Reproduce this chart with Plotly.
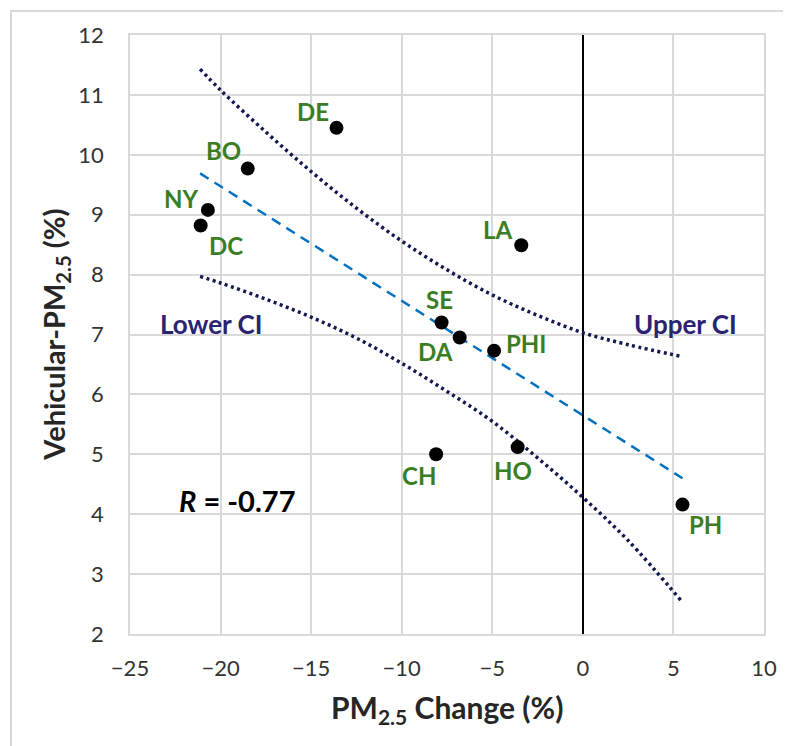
import plotly.graph_objects as go

# ---- data ----
cities = ["DE", "BO", "NY", "DC", "LA", "SE", "DA", "PHI", "CH", "HO", "PH"]
pm_change = [-13.6, -18.5, -20.7, -21.1, -3.4, -7.8, -6.8, -4.9, -8.1, -3.6, 5.5]
vehicular = [10.45, 9.77, 9.08, 8.82, 8.49, 7.20, 6.95, 6.73, 5.00, 5.12, 4.16]

fit_x = [-21.13, 5.5]
fit_y = [9.69, 4.60]

ci_x = [-21.13, -20, -17.5, -15, -12.5, -10, -7.5, -5, -2.5, 0, 2.5, 5.5]
upper_ci = [11.43, 11.08, 10.38, 9.72, 9.11, 8.56, 8.08, 7.66, 7.32, 7.03, 6.83, 6.63]
lower_ci = [7.97, 7.86, 7.59, 7.29, 6.94, 6.52, 6.05, 5.55, 4.94, 4.28, 3.56, 2.53]

x_ticks = [-25, -20, -15, -10, -5, 0, 5, 10]
y_ticks = [2, 3, 4, 5, 6, 7, 8, 9, 10, 11, 12]

r_text = "<i>R</i> = -0.77"

# label offsets (pixels: right, up)
label_offsets = {
    "DE": (-24, 16), "BO": (-24, 18), "NY": (-27, 11), "DC": (25, -20),
    "LA": (-24, 16), "SE": (-2, 23), "DA": (-24, -14), "PHI": (32, 7),
    "CH": (-17, -21), "HO": (-5, -23), "PH": (23, -20),
}

GREEN = "#3A7D22"
NAVY = "#13184F"
CI_TXT = "#2B2272"
GRID = "#d9d9d9"
FONT = "Lato"

fig = go.Figure()

ci_line = dict(color=NAVY, width=3.5, dash="3px,3.5px", shape="spline")
fig.add_trace(go.Scatter(x=ci_x, y=upper_ci, mode="lines", line=ci_line, hoverinfo="skip"))
fig.add_trace(go.Scatter(x=ci_x, y=lower_ci, mode="lines", line=ci_line, hoverinfo="skip"))
fig.add_trace(go.Scatter(x=fit_x, y=fit_y, mode="lines",
                         line=dict(color="#0070C0", width=2.5, dash="10px,7px"), hoverinfo="skip"))
fig.add_trace(go.Scatter(x=pm_change, y=vehicular, mode="markers",
                         marker=dict(color="black", size=14)))

for c, xv, yv in zip(cities, pm_change, vehicular):
    dx, dy = label_offsets[c]
    fig.add_annotation(x=xv, y=yv, text=c, showarrow=False, xshift=dx, yshift=dy,
                       font=dict(family=FONT, size=24, color=GREEN, weight="bold"))

fig.add_annotation(x=-20.53, y=7.18, text="Lower CI", showarrow=False,
                   font=dict(family=FONT, size=26, color=CI_TXT, weight="bold"))
fig.add_annotation(x=5.68, y=7.17, text="Upper CI", showarrow=False,
                   font=dict(family=FONT, size=26, color=CI_TXT, weight="bold"))
fig.add_annotation(x=-22.4, y=4.23, xanchor="left", text=r_text, showarrow=False,
                   font=dict(family=FONT, size=29, color="black", weight="bold"))

# axis titles
fig.add_annotation(xref="paper", yref="paper", x=0.5, y=-0.125, yanchor="middle",
                   text="PM<sub>2.5</sub> Change (%)", showarrow=False,
                   font=dict(family=FONT, size=30, color="#262626", weight="bold"))
fig.add_annotation(xref="paper", yref="paper", x=-0.118, y=0.5, xanchor="center", yanchor="middle",
                   textangle=-90, text="Vehicular-PM<sub>2.5</sub> (%)", showarrow=False,
                   font=dict(family=FONT, size=29, color="#262626", weight="bold"))

# outer chart border
fig.add_shape(type="rect", xref="paper", yref="paper",
              x0=-0.1877, x1=1.0489, y0=-0.1937, y1=1.040,
              line=dict(color=GRID, width=2), layer="below")

fig.update_xaxes(range=[-25, 10], tickvals=x_ticks, showgrid=True, gridcolor=GRID, gridwidth=1.5,
                 zeroline=True, zerolinecolor="black", zerolinewidth=2,
                 showline=True, mirror=True, linecolor=GRID, linewidth=1.5,
                 ticks="outside", ticklen=14, tickcolor="rgba(0,0,0,0)",
                 tickfont=dict(family=FONT, size=22, color="#333333"))
fig.update_yaxes(range=[2, 12], tickvals=y_ticks, showgrid=True, gridcolor=GRID, gridwidth=1.5,
                 zeroline=False,
                 showline=True, mirror=True, linecolor=GRID, linewidth=1.5,
                 ticks="outside", ticklen=20, tickcolor="rgba(0,0,0,0)",
                 tickfont=dict(family=FONT, size=22, color="#333333"))

fig.update_layout(width=791, height=746, showlegend=False,
                  margin=dict(l=122, r=35, t=27, b=120),
                  paper_bgcolor="white", plot_bgcolor="white")

fig.write_html("out.html")
